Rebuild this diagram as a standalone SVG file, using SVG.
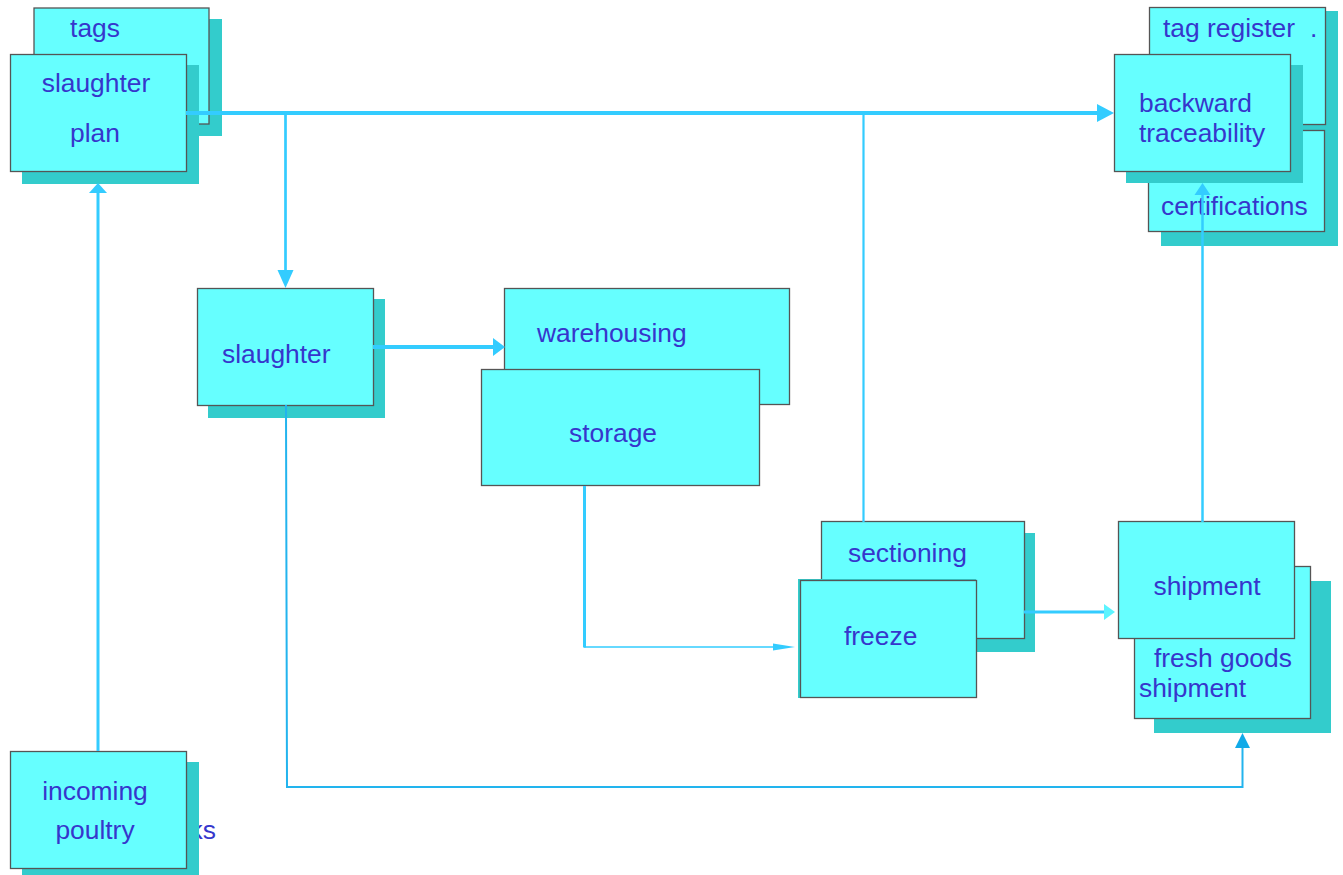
<svg xmlns="http://www.w3.org/2000/svg" width="1343" height="875" viewBox="0 0 1343 875">
<style>
.box{fill:#66ffff;stroke:#555;stroke-width:1.3}
.sh{fill:#33cccc}
.t{font-family:"Liberation Sans",Arial,sans-serif;font-size:26.4px;fill:#3636cc}
.c{text-anchor:middle}
.ln{fill:none;stroke:#33ccff}
.ah{fill:#33ccff}
</style>
<rect width="1343" height="875" fill="#fff"/>
<g id="tags">
<rect class="sh" x="46" y="19" width="176" height="117"/>
<rect class="box" x="34" y="8" width="175" height="116"/>
<text class="t c" x="95" y="37">tags</text>
</g>
<g id="slaughter-plan">
<rect class="sh" x="22" y="65" width="177" height="119"/>
<rect class="box" x="10.5" y="54.5" width="176" height="117"/>
<text class="t c" x="96" y="92">slaughter</text>
<text class="t c" x="95" y="142">plan</text>
</g>
<g id="tag-register">
<rect class="sh" x="1161" y="11" width="177" height="132"/>
<rect class="box" x="1149.5" y="7.5" width="176" height="117"/>
<text class="t" x="1163" y="37">tag register</text>
<text class="t" x="1310" y="37">.</text>
</g>
<g id="certifications">
<rect class="sh" x="1161" y="142" width="177" height="104"/>
<rect class="box" x="1148.5" y="130.5" width="176" height="101"/>
<text class="t" x="1161" y="215">certifications</text>
</g>
<g id="backward-traceability">
<rect class="sh" x="1126" y="65" width="177" height="118"/>
<rect class="box" x="1114.5" y="54.5" width="176" height="117"/>
<text class="t" x="1139" y="112">backward</text>
<text class="t" x="1139" y="142">traceability</text>
</g>
<g id="slaughter">
<rect class="sh" x="208" y="299" width="177" height="119"/>
<rect class="box" x="197.5" y="288.5" width="176" height="117"/>
<text class="t" x="222" y="363">slaughter</text>
</g>
<g id="warehousing">
<rect class="box" x="504.5" y="288.5" width="285" height="116"/>
<text class="t" x="537" y="342">warehousing</text>
</g>
<g id="storage">
<rect class="box" x="481.5" y="369.5" width="278" height="116"/>
<text class="t c" x="613" y="442">storage</text>
</g>
<g id="sectioning">
<rect class="sh" x="834" y="533" width="201" height="119"/>
<rect class="box" x="821.5" y="521.5" width="203" height="117"/>
<text class="t" x="848" y="562">sectioning</text>
</g>
<g id="freeze">
<rect class="sh" x="798" y="579" width="178" height="119"/>
<rect class="box" x="800.5" y="580.5" width="176" height="117"/>
<text class="t" x="844" y="645">freeze</text>
</g>
<g id="fresh-goods-shipment">
<rect class="sh" x="1154" y="581" width="177" height="152"/>
<rect class="box" x="1134.5" y="566.5" width="176" height="152"/>
<text class="t" x="1154" y="667">fresh goods</text>
<text class="t" x="1139" y="697">shipment</text>
</g>
<g id="shipment">
<rect class="box" x="1118.5" y="521.5" width="176" height="117"/>
<text class="t c" x="1207" y="595">shipment</text>
</g>
<g id="incoming-poultry">
<text class="t" x="216" y="839" text-anchor="end">ks</text>
<rect class="sh" x="22" y="762" width="177" height="113"/>
<rect class="box" x="10.5" y="751.5" width="176" height="117"/>
<text class="t c" x="95" y="800">incoming</text>
<text class="t c" x="95" y="839">poultry</text>
</g>
<g id="connectors">
<path class="ln" d="M186 113H1098" stroke-width="4"/>
<polygon class="ah" points="1114,113 1097,104 1097,122"/>
<path class="ln" d="M285.5 113V272" stroke-width="2.7"/>
<polygon class="ah" points="285.5,288 277.5,270 293.5,270"/>
<path class="ln" d="M863.5 113V522" stroke-width="2.2"/>
<path class="ln" d="M98 751V192" stroke-width="3"/>
<polygon class="ah" points="98,183 89,193 107,193"/>
<path class="ln" d="M373 347H494" stroke-width="4"/>
<polygon class="ah" points="505,347 493,338 493,356"/>
<path class="ln" d="M584.5 486V647.5" stroke-width="3"/>
<path class="ln" d="M584 647H775" stroke-width="1.5"/>
<polygon class="ah" points="795,647 773,643.5 773,650.5"/>
<path class="ln" d="M1024 612H1105" stroke-width="3" stroke="#5cf4ff"/>
<polygon points="1115,612 1104,604 1104,620" fill="#5cf4ff"/>
<path class="ln" d="M1202.5 522V194" stroke-width="2.5"/>
<polygon class="ah" points="1202.5,183 1194.5,195 1210.5,195"/>
<path d="M286 405L287 787H1242.5V747" fill="none" stroke="#22b4ee" stroke-width="2"/>
<polygon points="1242.5,733 1235,748 1250,748" fill="#11aae8"/>
</g>
</svg>
